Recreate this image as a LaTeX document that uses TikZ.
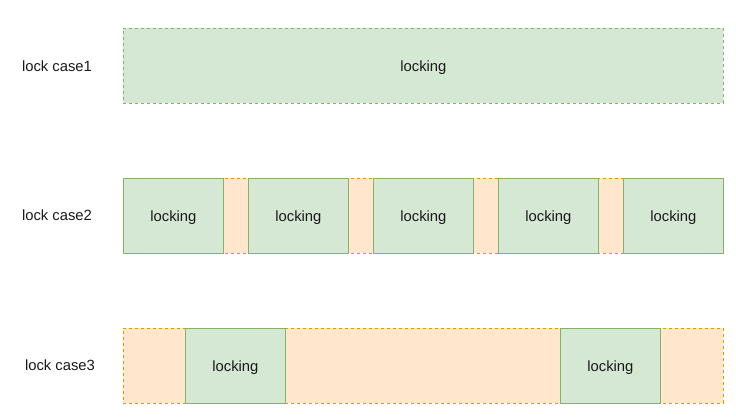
\documentclass[tikz,border=0pt]{standalone}
\usepackage{fontspec}
\setmainfont{Liberation Sans}
\definecolor{gfill}{HTML}{D5E8D4}
\definecolor{gline}{HTML}{82B366}
\definecolor{ofill}{HTML}{FFE6CC}
\definecolor{oline}{HTML}{D79B00}
\begin{document}
\begin{tikzpicture}[x=1pt,y=-1pt,
  every node/.style={font=\fontsize{14.8}{17}\selectfont, text=black!90},
  lockbox/.style={draw=gline, fill=gfill, line width=0.8pt, minimum width=100pt, minimum height=75pt, inner sep=0pt, text depth=0pt, anchor=north west},
  lockbar/.style={draw=gline, fill=gfill, dash pattern=on 3pt off 3pt, line width=0.8pt, minimum width=600pt, minimum height=75pt, inner sep=0pt, text depth=0pt, anchor=north west},
  freebar/.style={draw=oline, fill=ofill, dash pattern=on 3pt off 3pt, line width=0.8pt, minimum width=600pt, minimum height=75pt, inner sep=0pt, anchor=north west},
  rowlabel/.style={anchor=center}]
\useasboundingbox (0,0) rectangle (736,420);
% row 1
\node[rowlabel] (l1) at (57,66) {lock case1};
\node[lockbar] (r1) at (123,28) {locking};
% row 2
\node[rowlabel] (l2) at (57,215) {lock case2};
\node[freebar] (r2) at (123,178) {};
\node[lockbox] (b21) at (123,178) {locking};
\node[lockbox] (b22) at (248,178) {locking};
\node[lockbox] (b23) at (373,178) {locking};
\node[lockbox] (b24) at (498,178) {locking};
\node[lockbox] (b25) at (623,178) {locking};
% row 3
\node[rowlabel] (l3) at (60,365) {lock case3};
\node[freebar] (r3) at (123,328) {};
\node[lockbox] (b31) at (185,328) {locking};
\node[lockbox] (b32) at (560,328) {locking};
\end{tikzpicture}
\end{document}
